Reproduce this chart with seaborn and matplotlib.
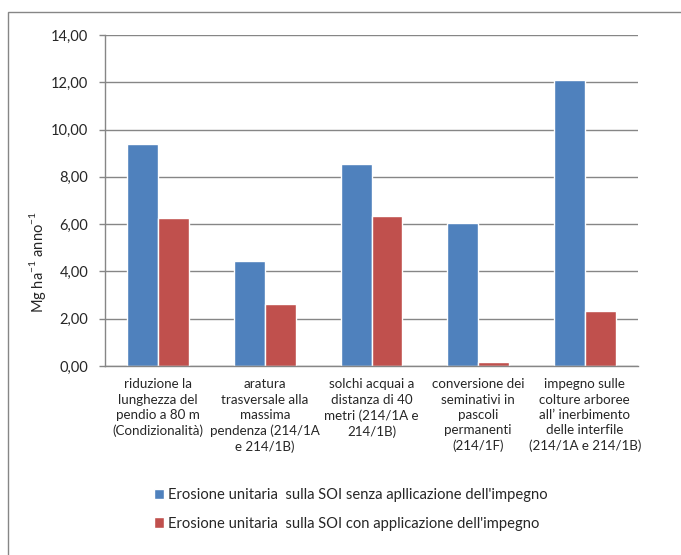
import matplotlib
matplotlib.use("Agg")
import matplotlib.pyplot as plt
import matplotlib.patches as mpatches
import numpy as np
import pandas as pd
import seaborn as sns

# Data
categorie = [
    "riduzione la\nlunghezza del\npendio a 80 m\n(Condizionalità)",
    "aratura\ntrasversale alla\nmassima\npendenza (214/1A\ne 214/1B)",
    "solchi acquai a\ndistanza di 40\nmetri (214/1A e\n214/1B)",
    "conversione dei\nseminativi in\npascoli\npermanenti\n(214/1F)",
    "impegno sulle\ncolture arboree\nall’ inerbimento\ndelle interfile\n(214/1A e 214/1B)",
]
serie = [
    "Erosione unitaria  sulla SOI senza apllicazione dell'impegno",
    "Erosione unitaria  sulla SOI con applicazione dell'impegno",
]
senza_impegno = [9.40, 4.42, 8.53, 6.05, 12.09]
con_impegno = [6.26, 2.64, 6.36, 0.16, 2.32]
y_ticks = [0, 2, 4, 6, 8, 10, 12, 14]

colori = ["#4F81BD", "#C0504D"]
grigio = "#868686"

df = pd.DataFrame({
    "categoria": categorie * 2,
    "valore": senza_impegno + con_impegno,
    "serie": [serie[0]] * len(categorie) + [serie[1]] * len(categorie),
})

sns.set_style("white")
plt.rcParams["font.family"] = ["Lato", "DejaVu Sans"]
plt.rcParams["font.size"] = 10

W, H = 681, 555
fig = plt.figure(figsize=(W / 100, H / 100), dpi=100)
ax = fig.add_axes([105 / W, 1 - 366 / H, (638 - 105) / W, (366 - 35) / H])

sns.barplot(data=df, x="categoria", y="valore", hue="serie",
            palette=colori, saturation=1, width=0.58, gap=0,
            order=categorie, hue_order=serie, ax=ax, legend=True)

handles, labels = ax.get_legend_handles_labels()
ax.get_legend().remove()

ax.set_xlim(-0.5, len(categorie) - 0.5)
ax.set_ylim(0, 14)
ax.set_yticks(y_ticks)
ax.set_yticklabels([f"{v:.2f}".replace(".", ",") for v in y_ticks], fontsize=10.5)
ax.yaxis.grid(True, color=grigio, lw=1)
ax.set_axisbelow(True)

ax.set_xticks(range(len(categorie)))
ax.set_xticklabels(categorie, fontsize=9.6, linespacing=1.32, va="top")
ax.set_xticks(np.arange(-0.5, len(categorie)), minor=True)
ax.tick_params(axis="x", which="major", length=0, pad=9)
ax.tick_params(axis="x", which="minor", length=4, width=1, color=grigio, direction="out")
ax.tick_params(axis="y", length=4, width=1, color=grigio, direction="out", pad=8, left=True)

ax.set_xlabel("")
ax.set_ylabel("")
for s in ["top", "right"]:
    ax.spines[s].set_visible(False)
for s in ["left", "bottom"]:
    ax.spines[s].set_color(grigio)
    ax.spines[s].set_linewidth(1)

fig.text(37 / W, 1 - 262 / H, r"Mg ha$^{\mathregular{-1}}$ anno$^{\mathregular{-1}}$",
         rotation=90, ha="center", va="center", fontsize=10.5)

fig.legend(handles, labels, loc="upper left",
           bbox_to_anchor=(148 / W, 1 - 482 / H), frameon=False,
           fontsize=10.6, handlelength=0.7, handleheight=0.7,
           handletextpad=0.25, labelspacing=1.0, borderaxespad=0)

# outer frame
fig.patches.append(mpatches.Rectangle((8 / W, -0.05), 1.1, 1.05 - 12 / H,
                                      transform=fig.transFigure, fill=False,
                                      edgecolor=grigio, lw=1))

fig.savefig("out.png", dpi=100)
